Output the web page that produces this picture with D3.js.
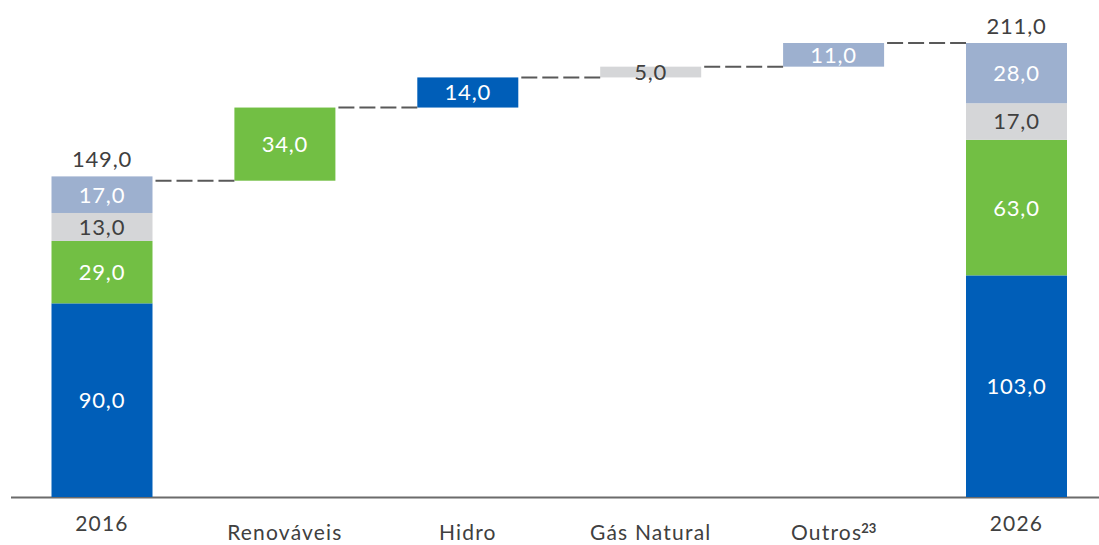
<!DOCTYPE html>
<html>
<head>
<meta charset="utf-8">
<script src="https://cdn.jsdelivr.net/npm/d3@7"></script>
<style>
  html, body { margin: 0; padding: 0; background: #ffffff; }
  svg { display: block; }
  text { font-family: Lato, "Open Sans", sans-serif; }
</style>
</head>
<body>
<svg id="chart" width="1099" height="545"></svg>
<script>
// ---- Data ----
const categories = ["2016", "Renováveis", "Hidro", "Gás Natural", "Outros", "2026"];
const sources = ["Hidro", "Renováveis", "Gás Natural", "Outros"]; // stack order bottom -> top
const stack2016 = [90, 29, 13, 17];
const stack2026 = [103, 63, 17, 28];
const total2016 = 149;
const total2026 = 211;
const stepCategories = ["Renováveis", "Hidro", "Gás Natural", "Outros"];
const stepValues = [34, 14, 5, 11];
const stepSource = ["Renováveis", "Hidro", "Gás Natural", "Outros"];

// ---- Styles ----
const colors = {
  "Hidro": "#005EB8",
  "Renováveis": "#72BF44",
  "Gás Natural": "#D5D6D8",
  "Outros": "#9DB0CF"
};
const labelColors = {
  "Hidro": "#ffffff",
  "Renováveis": "#ffffff",
  "Gás Natural": "#404040",
  "Outros": "#ffffff"
};
const fmt = v => d3.format(".1f")(v).replace(".", ",");

const svg = d3.select("#chart");
const x = d3.scalePoint().domain(categories).range([102, 1016.5]);
const barW = 101;
const y = d3.scaleLinear().domain([0, total2026]).range([497, 43]);

// Waterfall steps ending at 2026 total
const stepSum = d3.sum(stepValues);
const start = total2026 - stepSum;
const levels = [start];
stepValues.forEach(v => levels.push(levels[levels.length - 1] + v));

// Axis baseline
svg.append("line")
  .attr("x1", 11).attr("x2", 1099)
  .attr("y1", y(0) + 0.5).attr("y2", y(0) + 0.5)
  .attr("stroke", "#6b6b6b").attr("stroke-width", 2);

const valueFont = 22;

// Stacked bars
function drawStack(cat, vals, total) {
  let acc = 0;
  const segs = vals.map((v, i) => {
    const s = { src: sources[i], y0: acc, y1: acc + v, v };
    acc += v;
    return s;
  });
  const g = svg.append("g");
  g.selectAll("rect").data(segs).join("rect")
    .attr("x", x(cat) - barW / 2)
    .attr("width", barW)
    .attr("y", d => y(d.y1))
    .attr("height", d => y(d.y0) - y(d.y1))
    .attr("fill", d => colors[d.src]);
  g.selectAll("text.seg").data(segs).join("text")
    .attr("class", "seg")
    .attr("x", x(cat))
    .attr("y", d => (y(d.y0) + y(d.y1)) / 2)
    .attr("dy", "0.36em")
    .attr("text-anchor", "middle")
    .attr("font-size", valueFont)
    .attr("letter-spacing", 0.8)
    .attr("fill", d => labelColors[d.src])
    .text(d => fmt(d.v));
  g.append("text")
    .attr("x", x(cat))
    .attr("y", y(total) - 9)
    .attr("text-anchor", "middle")
    .attr("font-size", valueFont)
    .attr("letter-spacing", 0.8)
    .attr("fill", "#404040")
    .text(fmt(total));
}
drawStack("2016", stack2016, total2016);
drawStack("2026", stack2026, total2026);

// Step bars
const steps = stepCategories.map((c, i) => ({
  cat: c, src: stepSource[i], v: stepValues[i], y0: levels[i], y1: levels[i + 1]
}));
svg.selectAll("rect.step").data(steps).join("rect")
  .attr("class", "step")
  .attr("x", d => x(d.cat) - barW / 2)
  .attr("width", barW)
  .attr("y", d => y(d.y1))
  .attr("height", d => y(d.y0) - y(d.y1))
  .attr("fill", d => colors[d.src]);
svg.selectAll("text.step").data(steps).join("text")
  .attr("class", "step")
  .attr("x", d => x(d.cat))
  .attr("y", d => (y(d.y0) + y(d.y1)) / 2)
  .attr("dy", "0.36em")
  .attr("text-anchor", "middle")
  .attr("font-size", valueFont)
  .attr("letter-spacing", 0.8)
  .attr("fill", d => labelColors[d.src])
  .text(d => fmt(d.v));

// Connectors
const connLevels = levels; // between category i and i+1
svg.selectAll("line.conn").data(d3.range(categories.length - 1)).join("line")
  .attr("class", "conn")
  .attr("x1", i => x(categories[i]) + barW / 2 + 3)
  .attr("x2", i => x(categories[i + 1]) - barW / 2)
  .attr("y1", i => y(connLevels[i]))
  .attr("y2", i => y(connLevels[i]))
  .attr("stroke", "#595959")
  .attr("stroke-width", 2)
  .attr("stroke-dasharray", "16,5");

// Category labels
const isYear = c => /^\d{4}$/.test(c);
const lab = svg.selectAll("text.cat").data(categories).join("text")
  .attr("class", "cat")
  .attr("x", c => x(c))
  .attr("y", c => isYear(c) ? 531 : 540)
  .attr("text-anchor", "middle")
  .attr("font-size", 21)
  .attr("letter-spacing", 1.2)
  .attr("fill", "#404040");
lab.each(function (c) {
  const t = d3.select(this);
  t.append("tspan").text(c);
  if (c === "Outros") {
    t.append("tspan")
      .attr("font-size", 13)
      .attr("font-weight", "bold")
      .attr("dy", -7)
      .attr("dx", -1)
      .attr("letter-spacing", 0)
      .text("23");
  }
});
</script>
</body>
</html>
